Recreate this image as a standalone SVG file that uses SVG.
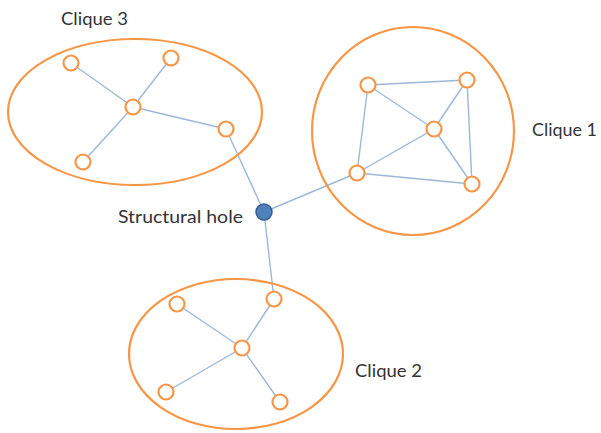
<svg xmlns="http://www.w3.org/2000/svg" width="601" height="433" viewBox="0 0 601 433">
<style>
.cl{fill:none;stroke:#f79646;stroke-width:2.2}
.n{fill:#fff;stroke:#f79646;stroke-width:2.2}
.e{stroke:#9db7d9;stroke-width:1.4;fill:none}
.t{font-family:Lato,"Open Sans",sans-serif;font-size:18px;fill:#333}
</style>
<rect width="601" height="433" fill="#fff"/>
<g id="connectors">
<line class="e" x1="71" y1="63" x2="133" y2="107"/>
<line class="e" x1="171" y1="58" x2="133" y2="107"/>
<line class="e" x1="133" y1="107" x2="226" y2="129"/>
<line class="e" x1="133" y1="107" x2="83" y2="162"/>
<line class="e" x1="226" y1="129" x2="264" y2="212"/>
<line class="e" x1="368" y1="85" x2="467" y2="80"/>
<line class="e" x1="368" y1="85" x2="434" y2="129"/>
<line class="e" x1="368" y1="85" x2="357" y2="173"/>
<line class="e" x1="467" y1="80" x2="434" y2="129"/>
<line class="e" x1="467" y1="80" x2="472" y2="184"/>
<line class="e" x1="434" y1="129" x2="357" y2="173"/>
<line class="e" x1="434" y1="129" x2="472" y2="184"/>
<line class="e" x1="357" y1="173" x2="472" y2="184"/>
<line class="e" x1="357" y1="173" x2="264" y2="212"/>
<line class="e" x1="177" y1="304" x2="242" y2="348"/>
<line class="e" x1="274" y1="299" x2="242" y2="348"/>
<line class="e" x1="242" y1="348" x2="166" y2="392"/>
<line class="e" x1="242" y1="348" x2="280" y2="402"/>
<line class="e" x1="274" y1="299" x2="264" y2="212"/>
</g>
<g id="clique3">
<ellipse class="cl" cx="135" cy="112" rx="127" ry="73"/>
<text class="t" x="61" y="25" textLength="67" lengthAdjust="spacingAndGlyphs">Clique 3</text>
<circle class="n" cx="71" cy="63" r="7.5"/>
<circle class="n" cx="171" cy="58" r="7.5"/>
<circle class="n" cx="133" cy="107" r="7.5"/>
<circle class="n" cx="226" cy="129" r="7.5"/>
<circle class="n" cx="83" cy="162" r="7.5"/>
</g>
<g id="clique1">
<ellipse class="cl" cx="413" cy="131" rx="101" ry="104"/>
<text class="t" x="532" y="136" textLength="65" lengthAdjust="spacingAndGlyphs">Clique 1</text>
<circle class="n" cx="368" cy="85" r="7.5"/>
<circle class="n" cx="467" cy="80" r="7.5"/>
<circle class="n" cx="434" cy="129" r="7.5"/>
<circle class="n" cx="357" cy="173" r="7.5"/>
<circle class="n" cx="472" cy="184" r="7.5"/>
</g>
<g id="clique2">
<ellipse class="cl" cx="236" cy="354" rx="107" ry="75"/>
<text class="t" x="355" y="377" textLength="67" lengthAdjust="spacingAndGlyphs">Clique 2</text>
<circle class="n" cx="177" cy="304" r="7.5"/>
<circle class="n" cx="274" cy="299" r="7.5"/>
<circle class="n" cx="242" cy="348" r="7.5"/>
<circle class="n" cx="166" cy="392" r="7.5"/>
<circle class="n" cx="280" cy="402" r="7.5"/>
</g>
<g id="hole">
<circle cx="264" cy="212" r="8" fill="#4f81bd" stroke="#385d8a" stroke-width="1.5"/>
<text class="t" x="118" y="223" textLength="125" lengthAdjust="spacingAndGlyphs">Structural hole</text>
</g>
</svg>
